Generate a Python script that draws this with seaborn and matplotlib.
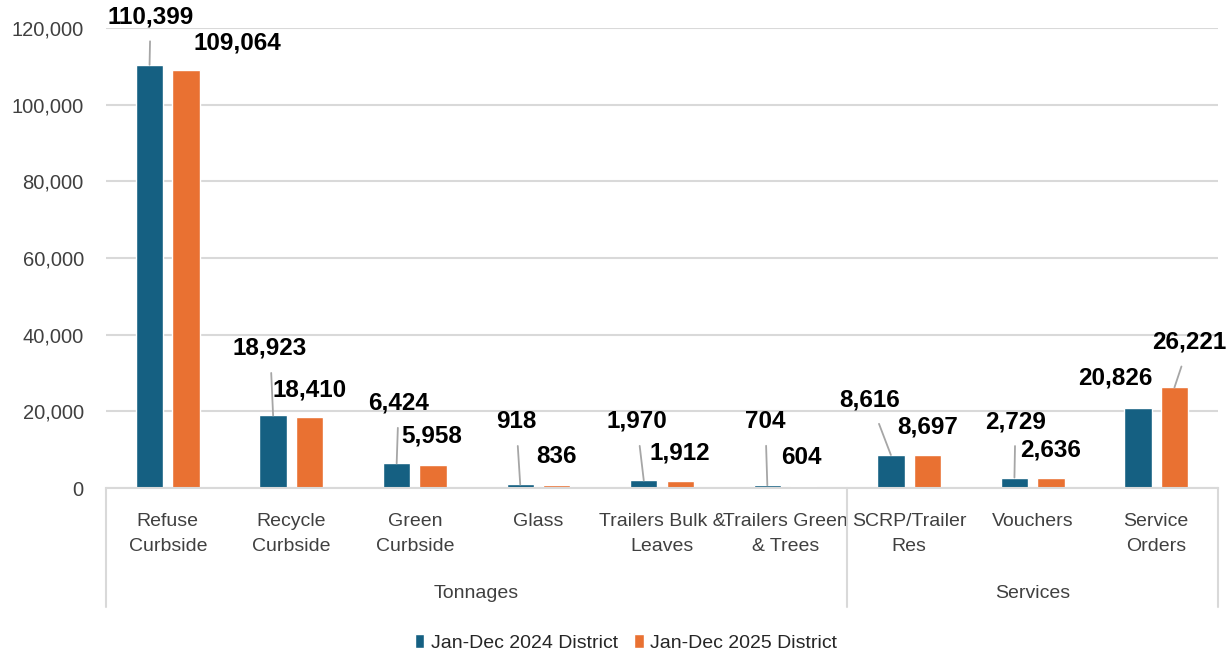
import pandas as pd
import matplotlib.pyplot as plt
import matplotlib.transforms as mtransforms
import seaborn as sns

# data
categories = ["Refuse\nCurbside", "Recycle\nCurbside", "Green\nCurbside", "Glass",
              "Trailers Bulk &\nLeaves", "Trailers Green\n& Trees", "SCRP/Trailer\nRes",
              "Vouchers", "Service\nOrders"]
groups = ["Tonnages", "Services"]
group_sizes = [6, 3]
series = ["Jan-Dec 2024 District", "Jan-Dec 2025 District"]
values_2024 = [110399, 18923, 6424, 918, 1970, 704, 8616, 2729, 20826]
values_2025 = [109064, 18410, 5958, 836, 1912, 604, 8697, 2636, 26221]

# label placement (pixel offsets from bar top) and whether a leader line is drawn
offsets_2024 = [(1, 48), (-3, 67), (2, 60), (-4, 63), (-7, 59), (-2, 64), (-21, 55), (1, 56), (-23, 30)]
offsets_2025 = [(51, 27), (0, 27), (-1, 29), (0, 28), (0, 28), (-2, 28), (0, 28), (0, 28), (15, 45)]
leader_2024 = [True, True, True, True, True, True, True, True, False]
leader_2025 = [False, False, False, False, False, False, False, False, True]

blue = "#156082"
orange = "#E97132"
grid_col = "#d9d9d9"
text_col = "#404040"

sns.set_theme(style="white")
plt.rcParams['font.family'] = ['Liberation Sans', 'DejaVu Sans']

df = pd.DataFrame({
    "category": categories * 2,
    "series": [series[0]] * len(categories) + [series[1]] * len(categories),
    "value": values_2024 + values_2025,
})

fig = plt.figure(figsize=(12.29, 6.54), dpi=100)
ax = fig.add_axes([106 / 1229, (654 - 488) / 654, 1112 / 1229, 460 / 654])

sns.barplot(data=df, x="category", y="value", hue="series", palette=[blue, orange],
            width=0.59, gap=0.25, ax=ax, saturation=1)

ax.set_ylim(0, 120000)
ax.set_xlim(-0.5, len(categories) - 0.5)
ax.set_yticks(range(0, 120001, 20000))
ax.set_yticklabels([f"{v:,}" for v in range(0, 120001, 20000)], fontsize=14.5, color=text_col)
ax.yaxis.grid(True, color=grid_col, lw=1.5)
ax.set_axisbelow(True)
ax.tick_params(axis="y", length=0, pad=16)
ax.tick_params(axis="x", length=0, pad=18)
ax.set_xticks(range(len(categories)))
ax.set_xticklabels(categories, fontsize=14, color=text_col, linespacing=1.6)
ax.set_xlabel("")
ax.set_ylabel("")
for s in ["top", "right", "left"]:
    ax.spines[s].set_visible(False)
ax.spines["bottom"].set_color(grid_col)
ax.spines["bottom"].set_linewidth(1.5)

# data labels
for cont, offs, leads in zip(ax.containers, [offsets_2024, offsets_2025], [leader_2024, leader_2025]):
    for bar, (dx, dy), lead in zip(cont, offs, leads):
        h = bar.get_height()
        xy = (bar.get_x() + bar.get_width() / 2, h)
        arrow = dict(arrowstyle="-", color="#a6a6a6", lw=1.3, shrinkA=7, shrinkB=0) if lead else None
        ax.annotate(f"{int(h):,}", xy=xy, xytext=(dx, dy), textcoords="offset pixels",
                    ha="center", va="center", fontsize=17.5, fontweight="bold", color="black",
                    arrowprops=arrow, annotation_clip=False)

# group separators and group labels below the axis
trans = mtransforms.blended_transform_factory(ax.transData, ax.transAxes)
edges = [-0.5]
for n in group_sizes:
    edges.append(edges[-1] + n)
for e in edges:
    ax.plot([e, e], [0, -119 / 460], transform=trans, color=grid_col, lw=1.5, clip_on=False)
for g, a, b in zip(groups, edges[:-1], edges[1:]):
    ax.text((a + b) / 2, -106 / 460, g, transform=trans, ha="center", va="center",
            fontsize=14, color=text_col)

handles, labels = ax.get_legend_handles_labels()
ax.get_legend().remove()
fig.legend(handles, labels, loc="center", bbox_to_anchor=(626 / 1229, 11 / 654), ncol=2,
           frameon=False, handlelength=0.5, handleheight=0.7,
           handletextpad=0.35, columnspacing=0.8, prop={'size': 14})

fig.savefig("out.png", dpi=100)
